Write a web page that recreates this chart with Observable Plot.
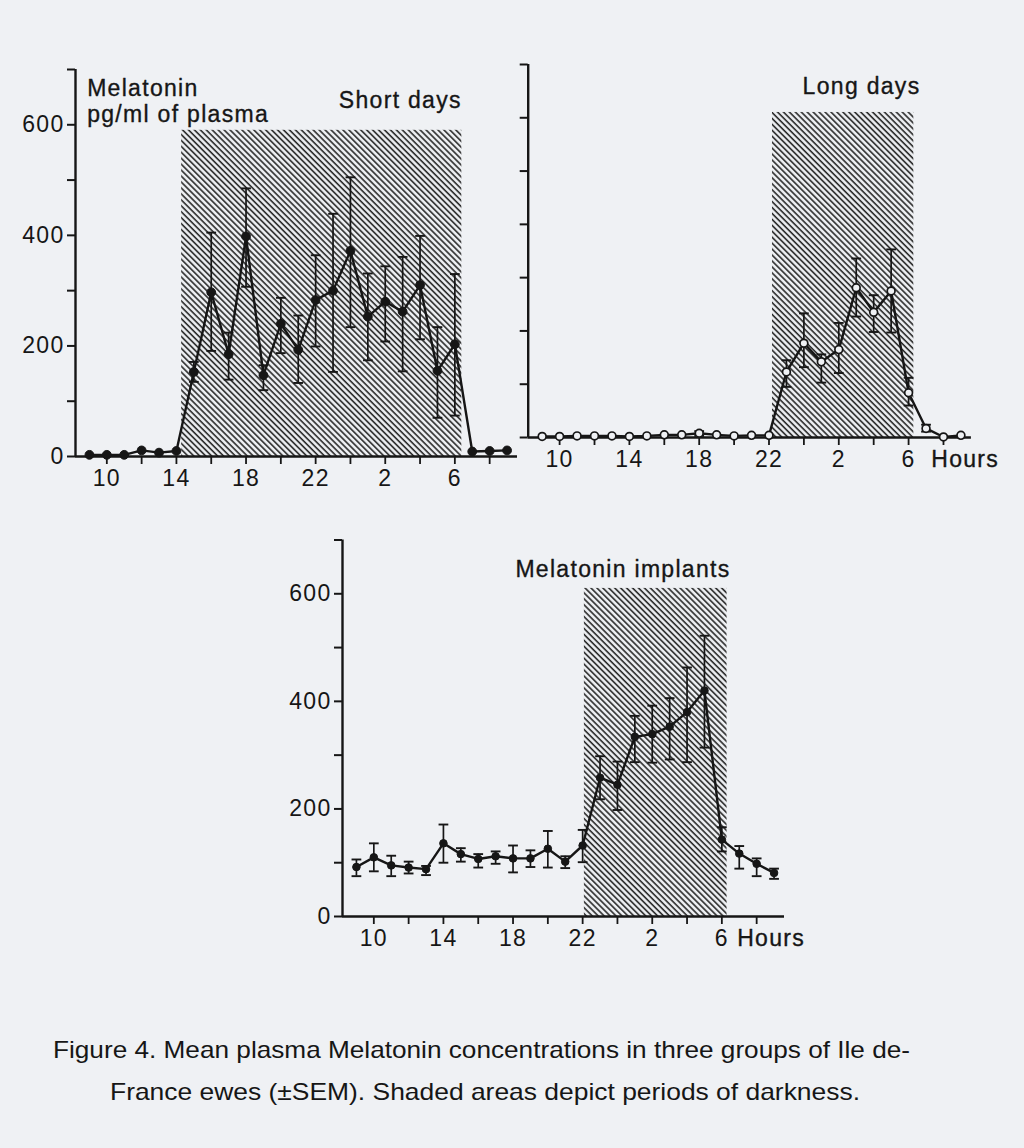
<!DOCTYPE html>
<html>
<head>
<meta charset="utf-8">
<script src="https://cdn.jsdelivr.net/npm/d3@7"></script>
<script src="https://cdn.jsdelivr.net/npm/@observablehq/plot@0.6"></script>
<style>
  html, body { margin: 0; padding: 0; background: #eff1f4; }
  #page { position: relative; width: 1024px; height: 1148px; overflow: hidden; background: #eff1f4;
          font-family: "Liberation Sans", Arial, Helvetica, sans-serif; color: #161616; }
  .panel { position: absolute; }
</style>
</head>
<body>
<div id="page"></div>
<script>
// ---------- data ----------
const hours = [9,10,11,12,13,14,15,16,17,18,19,20,21,22,23,24,25,26,27,28,29,30,31,32,33];
const xTickValues = [10,12,14,16,18,20,22,24,26,28,30,32];
const xTickLabels = ["10","","14","","18","","22","","2","","6",""];
const yTickValues = [0,100,200,300,400,500,600,700];
const yTickLabels = ["0","","200","","400","","600",""];

// Short days (filled circles)
const shortMean = [3,3,3,11,7,10,153,297,185,398,147,240,193,283,300,372,253,280,262,310,155,203,9,10,11];
const shortHi   = [null,null,null,null,null,null,171,405,224,485,165,287,255,364,439,505,331,344,361,399,234,330,null,null,null];
const shortLo   = [null,null,null,null,null,null,135,191,139,307,120,187,133,199,153,234,174,208,154,212,70,74,null,null,null];

// Long days (open circles)
const longMean = [2,2,3,3,3,2,3,5,5,8,5,3,4,4,123,177,142,165,281,235,275,84,17,1,4];
const longHi   = [null,null,null,null,null,null,null,null,null,12,null,null,null,null,145,233,156,215,336,267,353,112,24,null,null];
const longLo   = [null,null,null,null,null,null,null,null,null,3,null,null,null,null,95,132,103,121,227,198,197,60,11,null,null];

// Melatonin implants (filled circles)
const implantMean = [92,110,95,91,88,136,116,107,112,108,108,126,102,132,258,245,334,339,353,380,420,143,117,98,81];
const implantHi   = [106,136,113,102,94,171,127,116,121,132,123,159,112,161,298,288,373,392,406,463,522,166,131,108,89];
const implantLo   = [75,84,75,80,77,100,102,91,98,82,92,91,90,101,218,198,287,286,292,287,314,121,89,75,70];

// darkness periods (hours, 24+ = next day) and hatched-box top
const darkStart = [14.3, 22.2, 22.1];
const darkEnd   = [30.4, 30.3, 30.3];
const darkTop   = [590, 610, 610];

const panelTitles = ["Short days", "Long days", "Melatonin implants"];
const yAxisTitle = ["Melatonin", "pg/ml of plasma"];
const hoursLabel = "Hours";
const captionLines = [
  "Figure 4. Mean plasma Melatonin concentrations in three groups of Ile de-",
  "France ewes (\u00B1SEM). Shaded areas depict periods of darkness."
];

// ---------- styling / layout ----------
const ink = "#161616";
const bg = "#eff1f4";
const font = "'Liberation Sans', Arial, Helvetica, sans-serif";
const fs = 23;
const page = document.getElementById("page");

const panels = [
  {mean: shortMean, hi: shortHi, lo: shortLo, open: false, r: 4.4,
   left: 0, top: 20, width: 530, height: 480, ml: 75, mr: 13, mt: 49, mb: 44,
   title: {x: 30.4, y: 644}, hours: null, yTitle: {x: 8.87, y: 687}, showYLabels: true},
  {mean: longMean, hi: longHi, lo: longLo, open: true, r: 3.9,
   left: 500, top: 20, width: 510, height: 470, ml: 27.7, mr: 39.1, mt: 44, mb: 53,
   title: {x: 30.68, y: 658}, hours: {x: 31.3}, yTitle: null, showYLabels: false},
  {mean: implantMean, hi: implantHi, lo: implantLo, open: false, r: 3.8,
   left: 270, top: 500, width: 540, height: 480, ml: 72, mr: 26, mt: 39.5, mb: 64,
   title: {x: 30.5, y: 644}, hours: {x: 30.88}, yTitle: null, showYLabels: true}
];

const xLabelOf = new Map(xTickValues.map((t, i) => [t, xTickLabels[i]]));
const yLabelOf = new Map(yTickValues.map((t, i) => [t, yTickLabels[i]]));
const xDomain = [8.2, 33.6];
const capHalf = 0.28;

panels.forEach((p, k) => {
  const rows = hours.map((h, i) => ({h, m: p.mean[i], hi: p.hi[i], lo: p.lo[i]}));
  const err = rows.filter(d => d.hi != null && d.lo != null);
  const dark = [{x1: darkStart[k], x2: darkEnd[k], y1: 0, y2: darkTop[k]}];
  const pid = "hatch" + k;
  const textStyle = {fontSize: fs, fill: ink, stroke: ink, strokeWidth: 0.35};

  const marks = [
    Plot.rect(dark, {x1: "x1", x2: "x2", y1: "y1", y2: "y2", fill: `url(#${pid})`}),
    Plot.ruleY([0], {stroke: ink, strokeWidth: 2.4}),
    Plot.ruleX([xDomain[0]], {y1: 0, y2: 700, stroke: ink, strokeWidth: 2.4}),
    Plot.axisY(yTickValues, {anchor: "left", tickSize: 8, tickPadding: 3, strokeWidth: 2,
      tickFormat: d => p.showYLabels ? yLabelOf.get(d) : "", label: null, fontSize: fs, fill: ink, stroke: ink}),
    Plot.axisX(xTickValues, {anchor: "bottom", tickSize: 8, tickPadding: 5, strokeWidth: 1.8,
      tickFormat: d => xLabelOf.get(d), label: null, fontSize: fs, fill: ink, stroke: ink}),
    Plot.line(rows, {x: "h", y: "m", stroke: ink, strokeWidth: 2.4}),
    Plot.ruleX(err, {x: "h", y1: "lo", y2: "hi", stroke: ink, strokeWidth: 1.7}),
    Plot.link(err, {x1: d => d.h - capHalf, x2: d => d.h + capHalf, y1: "hi", y2: "hi", stroke: ink, strokeWidth: 1.9}),
    Plot.link(err, {x1: d => d.h - capHalf, x2: d => d.h + capHalf, y1: "lo", y2: "lo", stroke: ink, strokeWidth: 1.9}),
    Plot.dot(rows, {x: "h", y: "m", r: p.r,
      fill: p.open ? bg : ink, stroke: ink, strokeWidth: p.open ? 1.7 : 1}),
    Plot.text([{x: p.title.x, y: p.title.y, t: panelTitles[k]}],
      {x: "x", y: "y", text: "t", textAnchor: "end", ...textStyle})
  ];
  if (p.yTitle) {
    marks.push(Plot.text([{x: p.yTitle.x, y: p.yTitle.y, t: yAxisTitle.join("\n")}],
      {x: "x", y: "y", text: "t", textAnchor: "start", lineAnchor: "top", lineHeight: 1.16, ...textStyle}));
  }
  if (p.hours) {
    marks.push(Plot.text([{x: p.hours.x, y: 0, t: hoursLabel}],
      {x: "x", y: "y", text: "t", textAnchor: "start", lineAnchor: "top", dy: 13, ...textStyle}));
  }

  const svg = Plot.plot({
    width: p.width, height: p.height,
    marginLeft: p.ml, marginRight: p.mr, marginTop: p.mt, marginBottom: p.mb,
    x: {domain: xDomain},
    y: {domain: [0, 700]},
    style: {background: "transparent", fontFamily: font, fontSize: fs + "px", letterSpacing: "1.3px", color: ink, overflow: "visible", maxWidth: "none"},
    marks
  });
  d3.select(svg).insert("defs", ":first-child").html(
    `<pattern id="${pid}" patternUnits="userSpaceOnUse" width="4.2" height="4.2" patternTransform="rotate(-45)">` +
    `<rect width="4.2" height="4.2" fill="${bg}"/>` +
    `<line x1="1" y1="-1" x2="1" y2="5.2" stroke="#262626" stroke-width="1.6"/></pattern>`);
  const div = document.createElement("div");
  div.className = "panel";
  div.style.left = p.left + "px";
  div.style.top = p.top + "px";
  div.style.width = p.width + "px";
  div.style.height = p.height + "px";
  div.appendChild(svg);
  page.appendChild(div);
});

// ---------- caption ----------
const cap = d3.select(page).append("svg")
  .attr("width", 1024).attr("height", 110)
  .style("position", "absolute").style("left", "0px").style("top", "1020px");
const capPos = [{x: 53, y: 38, len: 857}, {x: 110, y: 80, len: 750}];
captionLines.forEach((line, i) => {
  cap.append("text")
    .attr("x", capPos[i].x).attr("y", capPos[i].y)
    .attr("textLength", capPos[i].len).attr("lengthAdjust", "spacingAndGlyphs")
    .attr("font-family", font).attr("font-size", 24).attr("fill", ink)
    .text(line);
});
</script>
</body>
</html>
